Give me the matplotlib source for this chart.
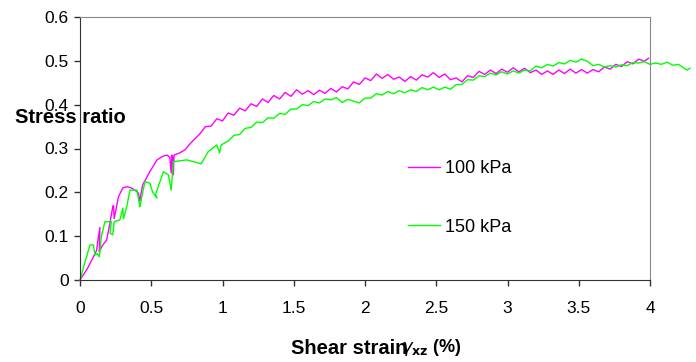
#
# plot.py - stress ratio vs shear strain
#
import matplotlib
matplotlib.use("Agg")
import matplotlib.pyplot as plt

plt.rcParams['font.family'] = ['Liberation Sans', 'DejaVu Sans']

# 100 kPa test
strain_100 = [0, 0.05, 0.09, 0.117, 0.125, 0.14, 0.135, 0.16, 0.187, 0.21, 0.23, 0.235, 0.24,
              0.27, 0.30, 0.33, 0.36, 0.386, 0.41, 0.42, 0.43, 0.44, 0.47, 0.49, 0.54, 0.58,
              0.61, 0.63, 0.64, 0.645, 0.65, 0.655, 0.66, 0.70, 0.737, 0.77, 0.80,
              0.84, 0.88, 0.92, 0.96, 1.00, 1.04, 1.08, 1.12, 1.16, 1.20, 1.24, 1.28, 1.32,
              1.36, 1.40, 1.44, 1.48, 1.52, 1.56, 1.60, 1.64, 1.68, 1.72, 1.76, 1.80, 1.84,
              1.88, 1.92, 1.96, 2.00, 2.04, 2.08, 2.12, 2.16, 2.20, 2.24, 2.28, 2.32, 2.36,
              2.40, 2.44, 2.48, 2.52, 2.56, 2.60, 2.64, 2.68, 2.72, 2.76, 2.80, 2.84, 2.88,
              2.92, 2.96, 3.00, 3.04, 3.08, 3.12, 3.16, 3.20, 3.24, 3.28, 3.32, 3.36, 3.40,
              3.44, 3.48, 3.52, 3.56, 3.60, 3.64, 3.68, 3.72, 3.76, 3.80, 3.84, 3.88, 3.92,
              3.96, 3.99]
ratio_100 = [0, 0.025, 0.05, 0.068, 0.09, 0.12, 0.065, 0.08, 0.091, 0.13, 0.167, 0.17, 0.14,
             0.19, 0.21, 0.213, 0.21, 0.205, 0.198, 0.18, 0.20, 0.217, 0.235, 0.247, 0.274, 0.282,
             0.285, 0.28, 0.244, 0.285, 0.28, 0.24, 0.285, 0.29, 0.297, 0.31, 0.32,
             0.333, 0.350, 0.351, 0.368, 0.363, 0.381, 0.376, 0.392, 0.386, 0.402, 0.396, 0.413, 0.405,
             0.421, 0.413, 0.428, 0.419, 0.434, 0.424, 0.432, 0.423, 0.433, 0.426, 0.437, 0.429, 0.441,
             0.436, 0.452, 0.446, 0.461, 0.455, 0.470, 0.460, 0.469, 0.458, 0.463, 0.453, 0.464, 0.456,
             0.468, 0.463, 0.473, 0.462, 0.470, 0.457, 0.461, 0.452, 0.466, 0.462, 0.476, 0.469, 0.479,
             0.471, 0.481, 0.474, 0.484, 0.475, 0.483, 0.473, 0.479, 0.469, 0.477, 0.469, 0.479, 0.471,
             0.481, 0.472, 0.480, 0.472, 0.480, 0.475, 0.486, 0.481, 0.492, 0.487, 0.498, 0.493, 0.504,
             0.499, 0.506]

# 150 kPa test
strain_150 = [0, 0.03, 0.07, 0.094, 0.105, 0.12, 0.136, 0.15, 0.175, 0.22, 0.21, 0.23, 0.24,
              0.28, 0.30, 0.305, 0.33, 0.35, 0.40, 0.42, 0.425, 0.44, 0.456, 0.49, 0.51, 0.54,
              0.53, 0.585, 0.62, 0.64, 0.655, 0.75, 0.85, 0.90, 0.96, 0.98, 0.99,
              1.04, 1.08, 1.12, 1.16, 1.20, 1.24, 1.28, 1.32, 1.36, 1.40, 1.44, 1.48, 1.52,
              1.56, 1.60, 1.64, 1.68, 1.72, 1.76, 1.80, 1.84, 1.88, 1.92, 1.96, 2.00, 2.04,
              2.08, 2.12, 2.16, 2.20, 2.24, 2.28, 2.32, 2.36, 2.40, 2.44, 2.48, 2.52, 2.56,
              2.60, 2.64, 2.68, 2.72, 2.76, 2.80, 2.84, 2.88, 2.92, 2.96, 3.00, 3.04, 3.08,
              3.12, 3.16, 3.20, 3.24, 3.28, 3.32, 3.36, 3.40, 3.44, 3.48, 3.52, 3.56, 3.60,
              3.64, 3.68, 3.72, 3.76, 3.80, 3.84, 3.88, 3.92, 3.96, 4.00, 4.04, 4.08, 4.12,
              4.16, 4.20, 4.24, 4.26, 4.28]
ratio_150 = [0, 0.035, 0.08, 0.08, 0.057, 0.06, 0.053, 0.10, 0.133, 0.133, 0.107, 0.103, 0.133,
             0.137, 0.164, 0.14, 0.17, 0.205, 0.205, 0.167, 0.175, 0.20, 0.224, 0.221, 0.20, 0.187,
             0.195, 0.247, 0.24, 0.205, 0.27, 0.274, 0.265, 0.293, 0.308, 0.29, 0.308,
             0.317, 0.330, 0.332, 0.346, 0.348, 0.360, 0.359, 0.370, 0.369, 0.380, 0.378, 0.390, 0.390,
             0.400, 0.398, 0.407, 0.404, 0.413, 0.411, 0.416, 0.405, 0.412, 0.408, 0.404, 0.415, 0.415,
             0.425, 0.422, 0.430, 0.425, 0.432, 0.427, 0.434, 0.430, 0.439, 0.434, 0.440, 0.434, 0.440,
             0.435, 0.446, 0.446, 0.457, 0.456, 0.466, 0.464, 0.472, 0.468, 0.475, 0.470, 0.477, 0.472,
             0.479, 0.477, 0.488, 0.484, 0.492, 0.488, 0.496, 0.493, 0.501, 0.497, 0.504, 0.499, 0.489,
             0.492, 0.486, 0.489, 0.486, 0.491, 0.489, 0.496, 0.495, 0.498, 0.492, 0.495, 0.492, 0.497,
             0.490, 0.492, 0.483, 0.479, 0.483]

x_ticks = [0, 0.5, 1, 1.5, 2, 2.5, 3, 3.5, 4]
x_labels = ['0', '0.5', '1', '1.5', '2', '2.5', '3', '3.5', '4']
y_ticks = [0, 0.1, 0.2, 0.3, 0.4, 0.5, 0.6]
y_labels = ['0', '0.1', '0.2', '0.3', '0.4', '0.5', '0.6']

fig = plt.figure(figsize=(6.96, 3.62), dpi=100)
ax = fig.add_axes([80 / 696, 82 / 362, 570 / 696, 263 / 362])

ax.plot(strain_100, ratio_100, color='#ff00ff', lw=1.0, label='100 kPa', clip_on=False)
ax.plot(strain_150, ratio_150, color='#00ff00', lw=1.0, label='150 kPa', clip_on=False)

ax.set_xlim(0, 4)
ax.set_ylim(0, 0.6)
ax.set_xticks(x_ticks)
ax.set_xticklabels(x_labels)
ax.set_yticks(y_ticks)
ax.set_yticklabels(y_labels)
ax.tick_params(direction='out', length=4, width=1, labelsize=12.5, colors='#333333',
               labelcolor='black')
ax.tick_params(axis='x', pad=11)
ax.tick_params(axis='y', pad=4)

for side in ['left', 'bottom']:
    ax.spines[side].set_color('#333333')
for side in ['top', 'right']:
    ax.spines[side].set_color('#888888')

fig.text(15 / 696, 1 - 118 / 362, 'Stress ratio', fontsize=14.5, fontweight='bold',
         va='center', ha='left')
# the gamma sits tight against "strain" like in the original
fig.text(291 / 696, 1 - 348 / 362, 'Shear strain', fontsize=14.5,
         fontweight='bold', va='center', ha='left')
fig.text(401 / 696, 1 - 348 / 362, r'$\gamma_{\mathbf{xz}}$ (%)', fontsize=13,
         fontweight='bold', va='center', ha='left')

ax.legend(loc='upper left', bbox_to_anchor=(392 / 696, 1 - 144 / 362),
          bbox_transform=fig.transFigure, frameon=False, fontsize=13,
          handlelength=1.75, handletextpad=0.3, labelspacing=2.3)

fig.savefig('out.png', dpi=100)
